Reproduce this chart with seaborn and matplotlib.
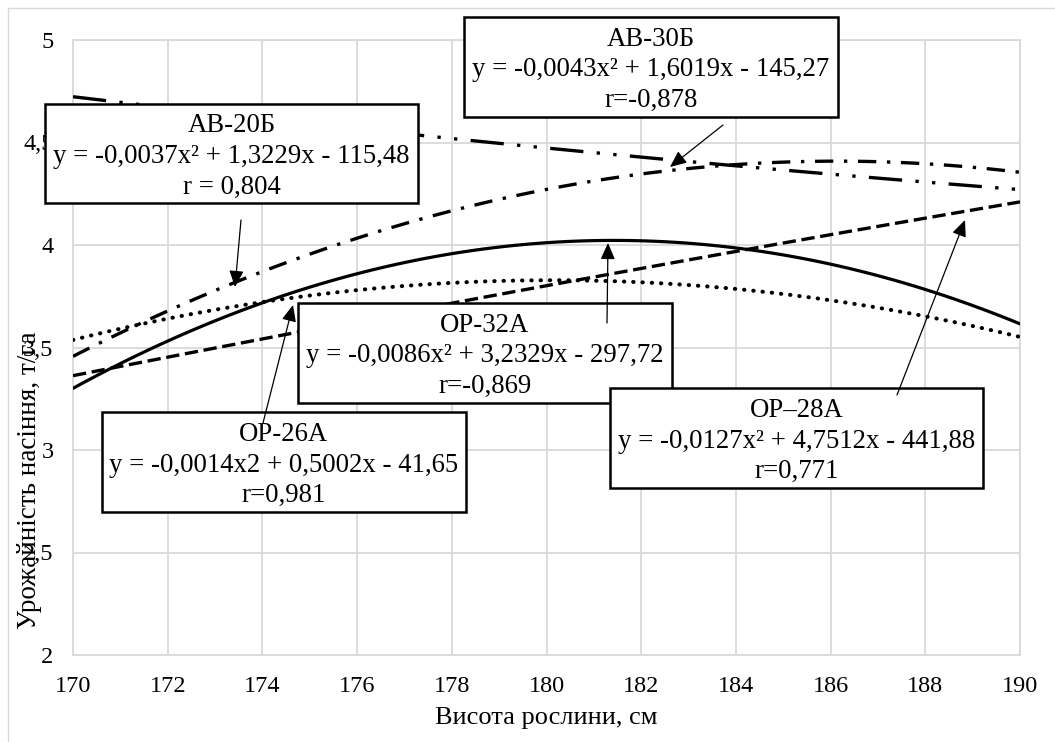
import numpy as np
import pandas as pd
import seaborn as sns
import matplotlib.pyplot as plt
from matplotlib.patches import Rectangle, FancyArrowPatch

# ---------------- data ----------------
height = [170, 172, 174, 176, 178, 180, 182, 184, 186, 188, 190]
op_32a = [3.30, 3.53, 3.72, 3.86, 3.96, 4.01, 4.02, 3.99, 3.90, 3.78, 3.62]
op_26a = [3.55, 3.63, 3.71, 3.78, 3.82, 3.83, 3.82, 3.79, 3.73, 3.65, 3.55]
op_28a = [3.38, 3.45, 3.52, 3.62, 3.72, 3.80, 3.89, 3.985, 4.055, 4.13, 4.20]
ab_20b = [3.46, 3.67, 3.87, 4.04, 4.17, 4.27, 4.34, 4.40, 4.405, 4.39, 4.36]
ab_30b_height = [170, 171, 178, 180, 182, 184, 186, 188, 190]
ab_30b = [4.72, 4.70, 4.52, 4.47, 4.43, 4.39, 4.34, 4.31, 4.27]

x_ticks = [170, 172, 174, 176, 178, 180, 182, 184, 186, 188, 190]
y_ticks = [2, 2.5, 3, 3.5, 4, 4.5, 5]
y_tick_labels = ["2", "2,5", "3", "3,5", "4", "4,5", "5"]

x_label = "Висота рослини, см"
y_label = "Урожайність насіння, т/га"

box_names = ["АВ-20Б", "АВ-30Б", "ОР-32А", "ОР-26А", "ОР–28А"]
box_equations = [
    "y = -0,0037x² + 1,3229x - 115,48",
    "y = -0,0043x² + 1,6019x - 145,27",
    "y = -0,0086x² + 3,2329x - 297,72",
    "y = -0,0014x2 + 0,5002x - 41,65",
    "y = -0,0127x² + 4,7512x - 441,88",
]
box_r = ["r = 0,804", "r=-0,878", "r=-0,869", "r=0,981", "r=0,771"]

# ---------------- layout / styles ----------------
W, H = 1055, 742
def fx(px):
    return px / W
def fy(py):
    return 1 - py / H

sns.set_theme(style="white")
plt.rcParams["font.family"] = ["Liberation Serif", "DejaVu Serif"]

fig = plt.figure(figsize=(W / 100, H / 100), dpi=100)
ax = fig.add_axes([fx(73), fy(655), (1020 - 73) / W, (655 - 40) / H])

series = [
    (height, op_32a, dict(linestyle="-", lw=2.3)),
    (height, op_26a, dict(linestyle=(0, (0.1, 2.2)), lw=2.9, dash_capstyle="round")),
    (height, op_28a, dict(linestyle=(0, (4.0, 1.7)), lw=2.4)),
    (height, ab_20b, dict(linestyle=(0, (5.5, 3.2, 1.0, 3.2)), lw=2.4)),
    (ab_30b_height, ab_30b, dict(linestyle=(0, (10, 4, 1, 4, 1, 4)), lw=2.4)),
]
for xs, ys, st in series:
    sns.regplot(x=np.array(xs, float), y=np.array(ys, float), order=2, ci=None,
                scatter=False, truncate=True, ax=ax,
                line_kws=dict(color="black", zorder=3, **st))

ax.set_xlim(170, 190)
ax.set_ylim(2, 5)
ax.set_xticks(x_ticks)
ax.set_xticklabels([str(v) for v in x_ticks])
ax.set_yticks(y_ticks)
ax.set_yticklabels(y_tick_labels)
ax.tick_params(axis="both", length=0, labelsize=17.5, colors="black")
ax.tick_params(axis="x", pad=15)
ax.tick_params(axis="y", pad=14)
ax.grid(True, color="#d9d9d9", lw=1.3)
for sp in ax.spines.values():
    sp.set_visible(True)
    sp.set_color("#d9d9d9")
    sp.set_linewidth(1.3)

ax.set_xlabel(x_label, fontsize=19, color="black")
ax.xaxis.set_label_coords(0.5, (655 - 718) / 615)
ax.xaxis.label.set_va("center")
ax.set_ylabel(y_label, fontsize=19.5, color="black")
ax.yaxis.set_label_coords((30 - 73) / 947, (655 - 480) / 615)
ax.yaxis.label.set_va("center")

# annotation boxes (pixel rectangles: left, top, right, bottom)
boxes = [
    (45, 104, 418, 203),
    (464, 17, 838, 117),
    (298, 303, 672, 403),
    (102, 412, 466, 512),
    (610, 388, 983, 488),
]
arrows = [
    ((241, 220), (235, 287)),
    ((723, 125), (670, 167)),
    ((607, 323), (608, 243)),
    ((263, 423), (293, 305)),
    ((897, 395), (965, 220)),
]
for (l, t, r, b), name, eq, rr in zip(boxes, box_names, box_equations, box_r):
    rect = Rectangle((fx(l), fy(b)), (r - l) / W, (b - t) / H, transform=fig.transFigure,
                     facecolor="white", edgecolor="black", lw=1.8, zorder=5, clip_on=False)
    fig.add_artist(rect)
    fig.text(fx((l + r) / 2), fy((t + b) / 2 + 3), f"{name}\n{eq}\n{rr}", ha="center", va="center",
             fontsize=19.3, linespacing=1.3, color="black", zorder=6)

for (tail, tip) in arrows:
    fig.add_artist(FancyArrowPatch(
        (fx(tail[0]), fy(tail[1])), (fx(tip[0]), fy(tip[1])), transform=fig.transFigure,
        arrowstyle="-|>,head_length=0.5,head_width=0.22", mutation_scale=20,
        color="black", lw=0.9, shrinkA=0, shrinkB=0, zorder=7))

# outer chart border
fig.add_artist(Rectangle((fx(8), fy(760)), (1070 - 8) / W, (760 - 8) / H, transform=fig.transFigure,
                         facecolor="none", edgecolor="#d9d9d9", lw=1.0, zorder=0))

fig.savefig("out.png", dpi=100)
